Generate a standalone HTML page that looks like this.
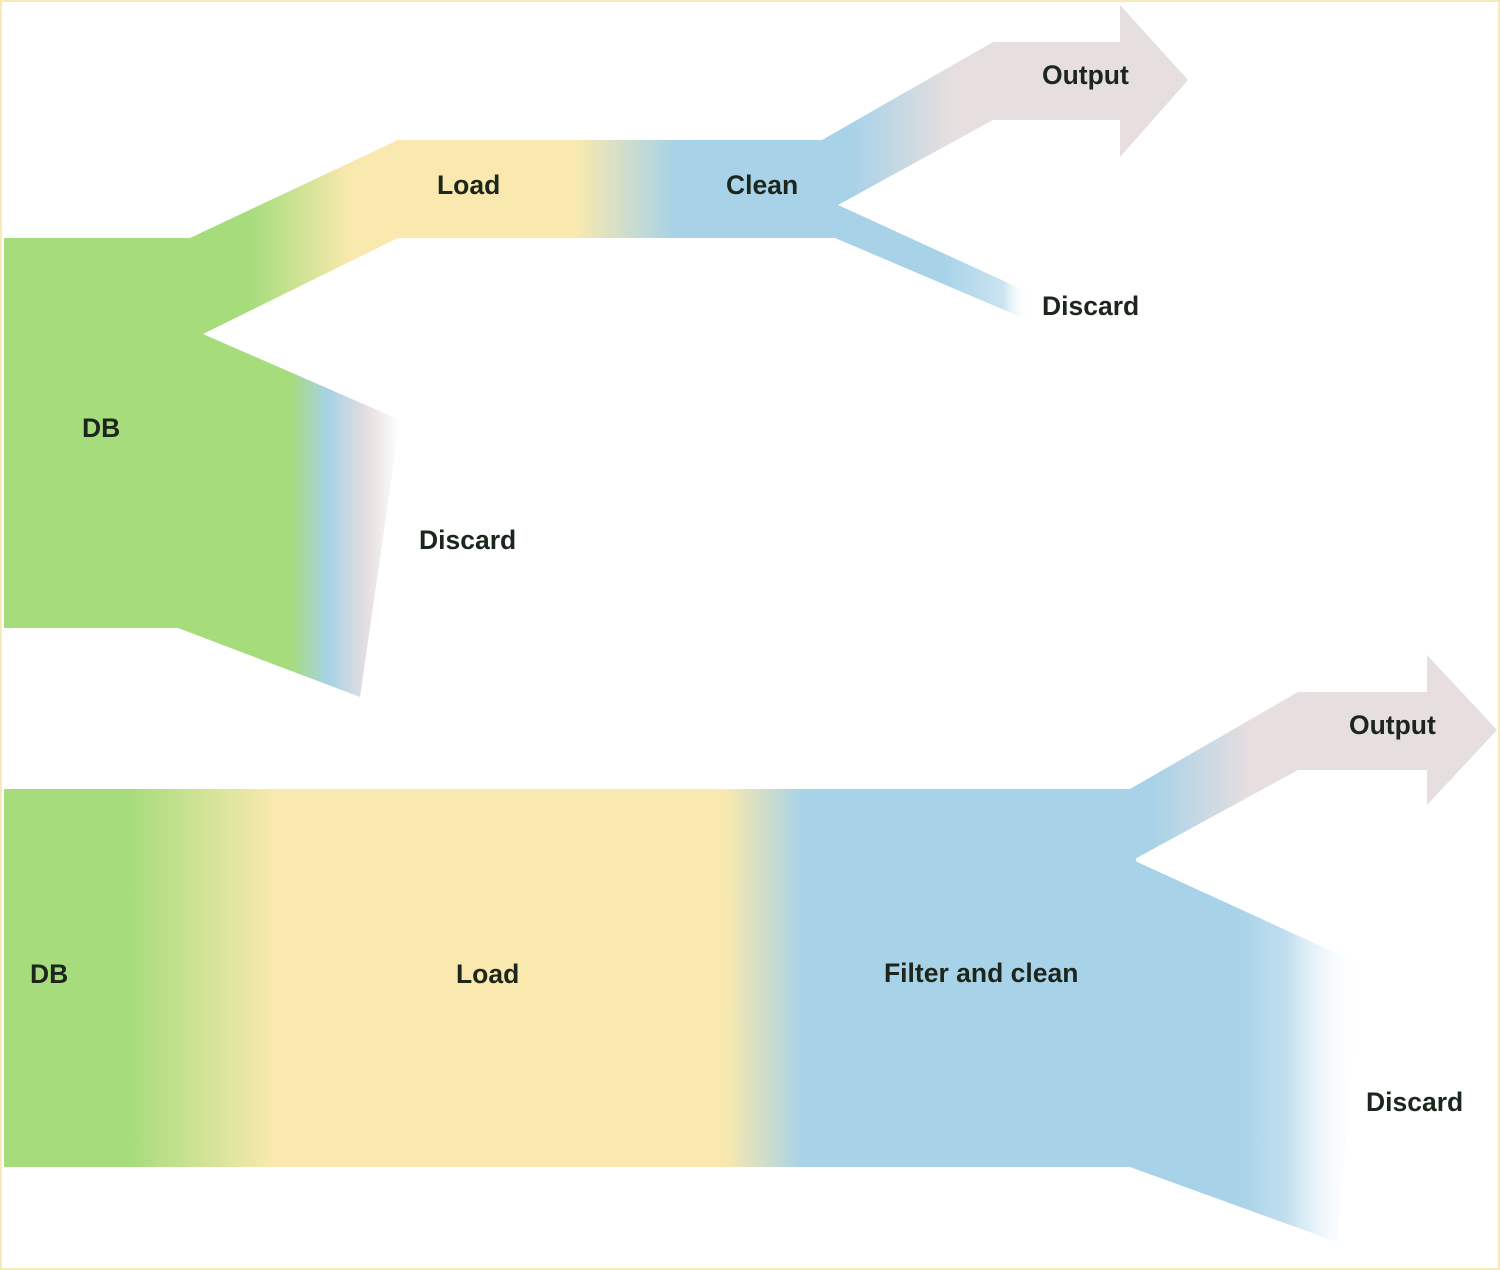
<!DOCTYPE html>
<html><head><meta charset="utf-8"><style>
html,body{margin:0;padding:0;background:#fff}
svg{display:block}
text{font-family:"Liberation Sans",sans-serif;font-weight:bold;font-size:26.5px;fill:#1c261c}
</style></head><body>
<svg width="1500" height="1270" viewBox="0 0 1500 1270" xmlns="http://www.w3.org/2000/svg">
<defs>
<linearGradient id="g1" gradientUnits="userSpaceOnUse" x1="200" y1="0" x2="400" y2="0">
<stop offset="0" stop-color="#a6dc7c"/><stop offset="0.25" stop-color="#a6dc7c"/><stop offset="0.75" stop-color="#f9e9ae"/><stop offset="1" stop-color="#f9e9ae"/></linearGradient>
<linearGradient id="g2" gradientUnits="userSpaceOnUse" x1="575" y1="0" x2="675" y2="0">
<stop offset="0" stop-color="#f9e9ae"/><stop offset="1" stop-color="#a7d2e8"/></linearGradient>
<linearGradient id="g3" gradientUnits="userSpaceOnUse" x1="850" y1="0" x2="950" y2="0">
<stop offset="0" stop-color="#a7d2e8"/><stop offset="1" stop-color="#e6dedf"/></linearGradient>
<linearGradient id="g4" gradientUnits="userSpaceOnUse" x1="940" y1="0" x2="1030" y2="0">
<stop offset="0" stop-color="#a7d2e8"/><stop offset="0.7" stop-color="#a7d2e8" stop-opacity="0.6"/><stop offset="1" stop-color="#ffffff" stop-opacity="0"/></linearGradient>
<linearGradient id="g5" gradientUnits="userSpaceOnUse" x1="290" y1="0" x2="400" y2="0">
<stop offset="0" stop-color="#a6dc7c"/><stop offset="0.35" stop-color="#a7d2e8"/><stop offset="0.7" stop-color="#e6dedf"/><stop offset="1" stop-color="#ffffff"/></linearGradient>
<linearGradient id="g6" gradientUnits="userSpaceOnUse" x1="4" y1="0" x2="1130" y2="0">
<stop offset="0.11" stop-color="#a6dc7c"/><stop offset="0.24" stop-color="#f9e9ae"/><stop offset="0.64" stop-color="#f9e9ae"/><stop offset="0.71" stop-color="#a7d2e8"/><stop offset="1" stop-color="#a7d2e8"/></linearGradient>
<linearGradient id="g7" gradientUnits="userSpaceOnUse" x1="1150" y1="0" x2="1250" y2="0">
<stop offset="0" stop-color="#a7d2e8"/><stop offset="1" stop-color="#e6dedf"/></linearGradient>
<linearGradient id="g8" gradientUnits="userSpaceOnUse" x1="1235" y1="0" x2="1362" y2="0">
<stop offset="0" stop-color="#a7d2e8"/><stop offset="0.4" stop-color="#b0d6ea" stop-opacity="0.8"/><stop offset="1" stop-color="#ffffff" stop-opacity="0"/></linearGradient>
</defs>
<rect x="1" y="1" width="1498" height="1268" fill="#fff" stroke="#f5eab8" stroke-width="2"/>
<!-- top -->
<polygon points="4,238 195,238 203,334 178,628 4,628" fill="#a6dc7c"/>
<polygon points="190,238 398,140 400,140 400,238 398,238 203,334 190,334" fill="url(#g1)"/>
<polygon points="196,331 203,334 400,420 360,697 178,628 170,628 170,331" fill="url(#g5)"/>
<rect x="396" y="140" width="432" height="98" fill="url(#g2)"/>
<polygon points="822,140 993,42 995,42 995,120 993,120 838,205 818,205 818,140" fill="url(#g3)"/>
<polygon points="993,42 1120,42 1120,5 1188,80 1120,157 1120,120 993,120" fill="#e6dedf"/>
<polygon points="818,200 838,205 1028,292 1028,320 835,238 818,238" fill="url(#g4)"/>
<!-- bottom -->
<rect x="4" y="789" width="1132" height="378" fill="url(#g6)"/>
<polygon points="1126,789 1130,789 1298,692 1300,692 1300,770 1298,770 1133,860 1126,860" fill="url(#g7)"/>
<polygon points="1298,692 1427,692 1427,655 1497,730 1427,805 1427,770 1298,770" fill="#e6dedf"/>
<polygon points="1126,858 1133,860 1362,965 1337,1242 1130,1167 1126,1167" fill="url(#g8)"/>
<!-- labels -->
<text x="437" y="194">Load</text>
<text x="726" y="194">Clean</text>
<text x="1042" y="84">Output</text>
<text x="1042" y="315">Discard</text>
<text x="82" y="437">DB</text>
<text x="419" y="549">Discard</text>
<text x="1349" y="734">Output</text>
<text x="30" y="983">DB</text>
<text x="456" y="983">Load</text>
<text x="884" y="982">Filter and clean</text>
<text x="1366" y="1111">Discard</text>
</svg>
</body></html>
